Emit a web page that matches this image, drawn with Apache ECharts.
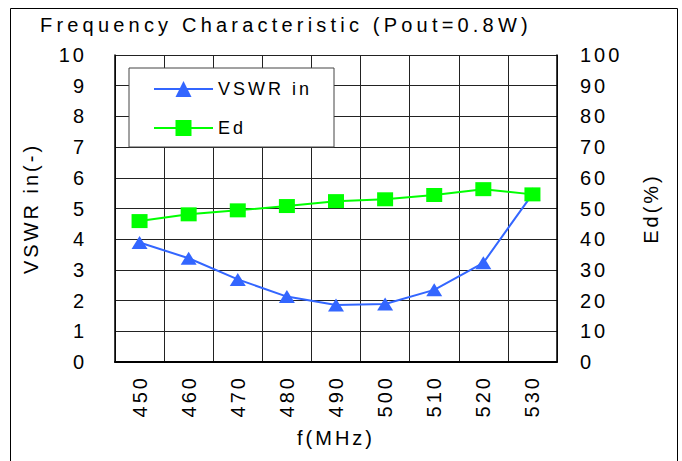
<!DOCTYPE html>
<html>
<head>
<meta charset="utf-8">
<script src="https://cdn.jsdelivr.net/npm/echarts@6/dist/echarts.min.js"></script>
<style>
html,body{margin:0;padding:0;background:#fff;}
#chart{width:682px;height:461px;}
#chart text{letter-spacing:3px;}
</style>
</head>
<body>
<div id="chart"></div>
<script>
var categories = ['450','460','470','480','490','500','510','520','530'];
var vswrIn = [3.89, 3.38, 2.69, 2.13, 1.86, 1.89, 2.35, 3.23, 5.47];
var ed = [45.9, 48.1, 49.4, 50.8, 52.4, 53.0, 54.4, 56.3, 54.6];
var leftTicks = {min: 0, max: 10, interval: 1};
var rightTicks = {min: 0, max: 100, interval: 10};

var FONT = 'Liberation Sans, Arial, sans-serif';
var chart = echarts.init(document.getElementById('chart'), null, {renderer: 'svg'});
chart.setOption({
  backgroundColor: '#fff',
  animation: false,
  title: {
    text: 'Frequency Characteristic (Pout=0.8W)',
    left: 40, top: 15, padding: 0,
    textStyle: {fontFamily: FONT, fontSize: 20, fontWeight: 'normal', color: '#000'}
  },
  graphic: [{
    type: 'rect', silent: true, z: -1,
    shape: {x: 10.5, y: 8.5, width: 667, height: 470},
    style: {fill: 'none', stroke: '#000', lineWidth: 1}
  }],
  legend: {
    orient: 'vertical', left: 129, top: 68,
    padding: [12, 43, 10, 24],
    itemGap: 21, itemWidth: 59, itemHeight: 20,
    backgroundColor: '#fff', borderColor: '#444', borderWidth: 1,
    textStyle: {fontFamily: FONT, fontSize: 18, color: '#000'},
    data: ['VSWR in', 'Ed']
  },
  grid: {left: 115, right: 125, top: 55, bottom: 99, containLabel: false},
  xAxis: {
    type: 'category', data: categories, boundaryGap: true,
    name: 'f(MHz)', nameLocation: 'middle', nameGap: 66,
    nameTextStyle: {fontFamily: FONT, fontSize: 20, color: '#000'},
    axisLine: {lineStyle: {color: '#000', width: 2}},
    axisTick: {show: false},
    axisLabel: {rotate: 90, margin: 13, fontFamily: FONT, fontSize: 20, color: '#000'},
    splitLine: {show: true, lineStyle: {color: '#222', width: 1}}
  },
  yAxis: [{
    type: 'value', min: leftTicks.min, max: leftTicks.max, interval: leftTicks.interval,
    name: 'VSWR in(-)', nameLocation: 'middle', nameGap: 74, nameRotate: 90,
    nameTextStyle: {fontFamily: FONT, fontSize: 20, color: '#000'},
    axisLine: {show: true, lineStyle: {color: '#000', width: 1.5}},
    axisTick: {show: false},
    axisLabel: {margin: 28, fontFamily: FONT, fontSize: 20, color: '#000'},
    splitLine: {show: true, lineStyle: {color: '#222', width: 1}}
  }, {
    type: 'value', min: rightTicks.min, max: rightTicks.max, interval: rightTicks.interval,
    name: 'Ed(%)', nameLocation: 'middle', nameGap: 84, nameRotate: 90,
    nameTextStyle: {fontFamily: FONT, fontSize: 20, color: '#000'},
    axisLine: {show: true, lineStyle: {color: '#000', width: 1.5}},
    axisTick: {show: false},
    axisLabel: {margin: 23, fontFamily: FONT, fontSize: 20, color: '#000'},
    splitLine: {show: false}
  }],
  series: [{
    name: 'VSWR in', type: 'line', yAxisIndex: 0, data: vswrIn,
    symbol: 'triangle', symbolSize: [16, 13],
    itemStyle: {color: '#3366ff'},
    lineStyle: {color: '#3366ff', width: 2}
  }, {
    name: 'Ed', type: 'line', yAxisIndex: 1, data: ed,
    symbol: 'rect', symbolSize: [16, 14],
    itemStyle: {color: '#00ff00'},
    lineStyle: {color: '#00ff00', width: 2}
  }]
});
function spacing(){
  document.querySelectorAll('#chart text').forEach(function(t){
    if (t.textContent.indexOf('Frequency') === 0) t.style.letterSpacing = '4.2px';
  });
}
chart.on('finished', spacing);
spacing();
</script>
</body>
</html>
